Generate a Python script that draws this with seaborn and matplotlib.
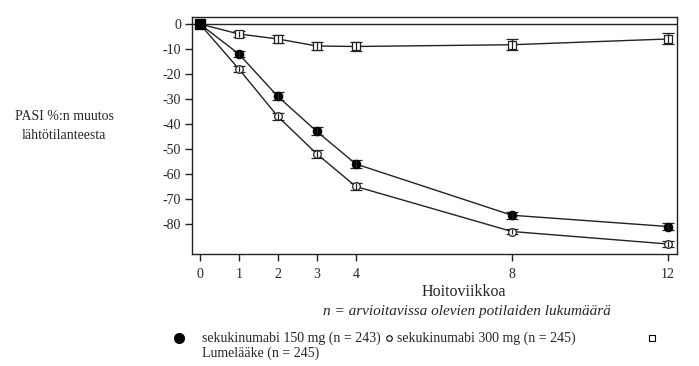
import numpy as np
import pandas as pd
import seaborn as sns
import matplotlib.pyplot as plt
from matplotlib.lines import Line2D

weeks = [0, 1, 2, 3, 4, 8, 12]
sec150 = [0, -12, -29, -43, -56, -76.5, -81]
sec150_err = [0, 1.3, 1.6, 1.6, 1.6, 1.4, 1.5]
sec300 = [0, -18, -37, -52, -65, -83, -88]
sec300_err = [0, 1.3, 1.5, 1.5, 1.5, 1.1, 1.1]
placebo = [0, -4, -6, -8.8, -9, -8.3, -6]
placebo_err = [0, 1.2, 1.5, 1.7, 1.7, 2.2, 2.2]

names = ["sec150", "sec300", "placebo"]
df = pd.DataFrame({
    "week": weeks * 3,
    "value": sec150 + sec300 + placebo,
    "group": [n for n in names for _ in weeks],
})

sns.set_style("white")
plt.rcParams['font.family'] = ['Liberation Serif', 'DejaVu Serif']

fig = plt.figure(figsize=(6.99, 3.66), dpi=100)
ax = fig.add_axes([0.2747, 0.3060, 0.6938, 0.6476])

ax.axhline(0, color="#222222", lw=1.0, zorder=1)

sns.lineplot(data=df, x="week", y="value", hue="group", units="group",
             estimator=None, palette=["#222222"] * 3, lw=1.0, legend=False,
             ax=ax, zorder=2)

styles = {
    "sec150": dict(marker="o", mfc="black", mec="black", ms=6),
    "sec300": dict(marker="o", mfc="white", mec="#222222", ms=5.5),
    "placebo": dict(marker="s", mfc="white", mec="#222222", ms=5.5),
}
series = {"sec150": (sec150, sec150_err), "sec300": (sec300, sec300_err),
          "placebo": (placebo, placebo_err)}
for n in names:
    vals, errs = series[n]
    ax.errorbar(weeks[1:], vals[1:], yerr=errs[1:], fmt="none", ecolor="#222222",
                elinewidth=0.9, capsize=4, capthick=0.9, zorder=3)
    ax.plot(weeks[1:], vals[1:], ls="none", zorder=4, mew=0.9, **styles[n])
    ax.errorbar(weeks[1:], vals[1:], yerr=errs[1:], fmt="none", ecolor="#222222",
                elinewidth=0.9, capsize=0, zorder=5)

# baseline point (all groups overlap)
ax.plot(weeks[0], sec150[0], marker="s", ms=7, color="black", zorder=6)

ax.set_xlim(-0.2, 12.23)
ax.set_ylim(-92, 2.8)
ax.set_xticks(weeks)
ax.set_yticks(np.arange(0, -81, -10))
ax.set_yticklabels([str(v) for v in range(0, -81, -10)])
ax.tick_params(axis="both", direction="out", length=5, width=1, color="#222222",
               labelsize=10, pad=3, bottom=True, left=True)
ax.tick_params(axis="x", pad=5)
for s in ax.spines.values():
    s.set_color("#222222")
    s.set_linewidth(1)
ax.set_xlabel("")
ax.set_ylabel("")

fig.text(64 / 699, 1 - 117 / 366, "PASI %:n muutos", ha="center", va="center", fontsize=10)
fig.text(64 / 699, 1 - 135 / 366, "lähtötilanteesta", ha="center", va="center", fontsize=10)
fig.text(464 / 699, 1 - 292 / 366, "Hoitoviikkoa", ha="center", va="center", fontsize=11.5)
fig.text(467 / 699, 1 - 312 / 366, "n = arvioitavissa olevien potilaiden lukumäärä",
         ha="center", va="center", fontsize=11, style="italic")

# legend
fig.add_artist(Line2D([179 / 699], [1 - 338 / 366], marker="o", ms=7, color="black",
                      transform=fig.transFigure))
fig.text(202 / 699, 1 - 338 / 366, "sekukinumabi 150 mg (n = 243)", ha="left", va="center", fontsize=10)
fig.add_artist(Line2D([389 / 699], [1 - 338 / 366], marker="o", ms=4, mfc="white", mec="black",
                      mew=0.8, transform=fig.transFigure))
fig.text(397 / 699, 1 - 338 / 366, "sekukinumabi 300 mg (n = 245)", ha="left", va="center", fontsize=10)
fig.add_artist(Line2D([652 / 699], [1 - 338 / 366], marker="s", ms=5, mfc="white", mec="black",
                      mew=0.8, transform=fig.transFigure))
fig.text(202 / 699, 1 - 353 / 366, "Lumelääke (n = 245)", ha="left", va="center", fontsize=10)

fig.savefig("out.png", dpi=100)
